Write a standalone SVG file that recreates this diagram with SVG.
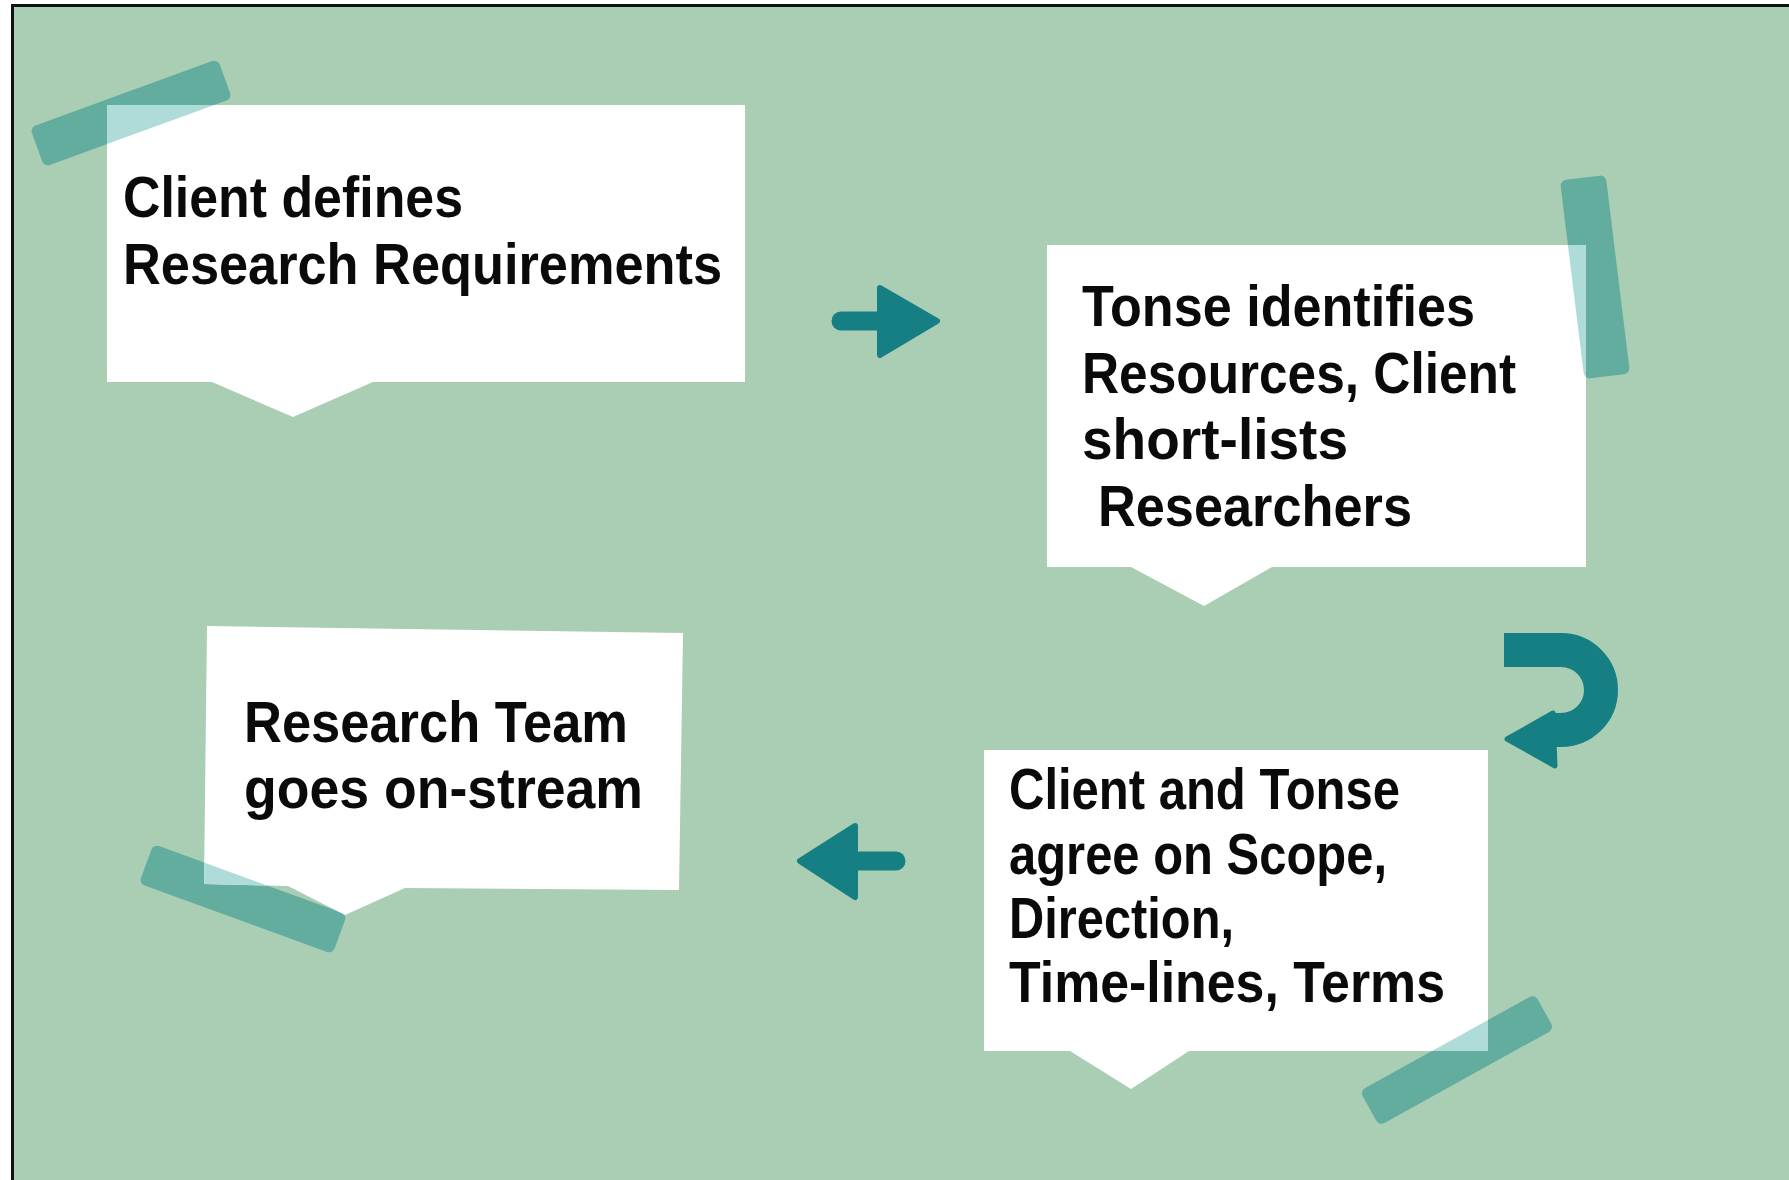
<svg xmlns="http://www.w3.org/2000/svg" width="1789" height="1180" viewBox="0 0 1789 1180">
<defs>
<style>
.bg{fill:#a9ceb4}
.box{fill:#ffffff}
.tape{fill:#63ad9f}
.tapel{fill:#afdcd8}
.arrow{fill:#167f83;stroke:#167f83;stroke-linejoin:round}
.shaft{fill:none;stroke:#167f83;stroke-width:19;stroke-linecap:round}
.t{font-family:"Liberation Sans","DejaVu Sans",Arial,sans-serif;font-weight:bold;font-size:58px;fill:#0a0a0a}
</style>
<clipPath id="c1"><polygon points="107,105 745,105 745,382 373,382 293,417 212,382 107,382"/></clipPath>
<clipPath id="c2"><polygon points="1047,245 1586,245 1586,567 1272,567 1204,606 1131,567 1047,567"/></clipPath>
<clipPath id="c3"><polygon points="207,626 683,633 679,890 405,888 345,915 288,886 204,884"/></clipPath>
<clipPath id="c4"><polygon points="984,750 1488,750 1488,1051 1189,1051 1131,1089 1070,1051 984,1051"/></clipPath>
<rect id="tp1" x="-100" y="-21" width="200" height="42" rx="6" transform="translate(131,113) rotate(-20)"/>
<rect id="tp2" x="-23" y="-100" width="46" height="200" rx="6" transform="translate(1595,277) rotate(-7)"/>
<rect id="tp3" x="-103" y="-21" width="206" height="42" rx="6" transform="translate(243,899) rotate(20)"/>
<rect id="tp4" x="-100" y="-20" width="200" height="40" rx="6" transform="translate(1457,1060) rotate(-29)"/>
</defs>
<rect width="1789" height="1180" fill="#ffffff"/>
<rect class="bg" x="13" y="6" width="1776" height="1174"/>
<rect x="11" y="4" width="1778" height="3" fill="#111"/>
<rect x="11" y="4" width="3" height="1176" fill="#111"/>

<g id="node1">
<use href="#tp1" class="tape"/>
<polygon class="box" points="107,105 745,105 745,382 373,382 293,417 212,382 107,382"/>
<use href="#tp1" class="tapel" clip-path="url(#c1)"/>
<text class="t" x="123" y="217" textLength="340" lengthAdjust="spacingAndGlyphs">Client defines</text>
<text class="t" x="123" y="284" textLength="599" lengthAdjust="spacingAndGlyphs">Research Requirements</text>
</g>

<g id="node2">
<use href="#tp2" class="tape"/>
<polygon class="box" points="1047,245 1586,245 1586,567 1272,567 1204,606 1131,567 1047,567"/>
<use href="#tp2" class="tapel" clip-path="url(#c2)"/>
<text class="t" x="1082" y="326" textLength="393" lengthAdjust="spacingAndGlyphs">Tonse identifies</text>
<text class="t" x="1082" y="393" textLength="434" lengthAdjust="spacingAndGlyphs">Resources, Client</text>
<text class="t" x="1082" y="459" textLength="266" lengthAdjust="spacingAndGlyphs">short-lists</text>
<text class="t" x="1098" y="526" textLength="314" lengthAdjust="spacingAndGlyphs">Researchers</text>
</g>

<g id="node3">
<use href="#tp3" class="tape"/>
<polygon class="box" points="207,626 683,633 679,890 405,888 345,915 288,886 204,884"/>
<use href="#tp3" class="tapel" clip-path="url(#c3)"/>
<text class="t" x="244" y="742" textLength="384" lengthAdjust="spacingAndGlyphs">Research Team</text>
<text class="t" x="244" y="808" textLength="399" lengthAdjust="spacingAndGlyphs">goes on-stream</text>
</g>

<g id="node4">
<use href="#tp4" class="tape"/>
<polygon class="box" points="984,750 1488,750 1488,1051 1189,1051 1131,1089 1070,1051 984,1051"/>
<use href="#tp4" class="tapel" clip-path="url(#c4)"/>
<text class="t" x="1009" y="809" textLength="391" lengthAdjust="spacingAndGlyphs">Client and Tonse</text>
<text class="t" x="1009" y="874" textLength="378" lengthAdjust="spacingAndGlyphs">agree on Scope,</text>
<text class="t" x="1009" y="938" textLength="225" lengthAdjust="spacingAndGlyphs">Direction,</text>
<text class="t" x="1009" y="1002" textLength="436" lengthAdjust="spacingAndGlyphs">Time-lines, Terms</text>
</g>

<g id="connectors">
<line class="shaft" x1="841" y1="321" x2="886" y2="321"/>
<polygon class="arrow" stroke-width="6" points="880,288 937,321 880,355"/>
<path d="M1504 650 H1561 A40 40 0 0 1 1561 730 H1552" fill="none" stroke="#167f83" stroke-width="34"/>
<polygon class="arrow" stroke-width="5" points="1507,739 1553,713 1555,766"/>
<line class="shaft" x1="896" y1="861" x2="850" y2="861"/>
<polygon class="arrow" stroke-width="6" points="855,826 800,861 855,897"/>
</g>
</svg>
